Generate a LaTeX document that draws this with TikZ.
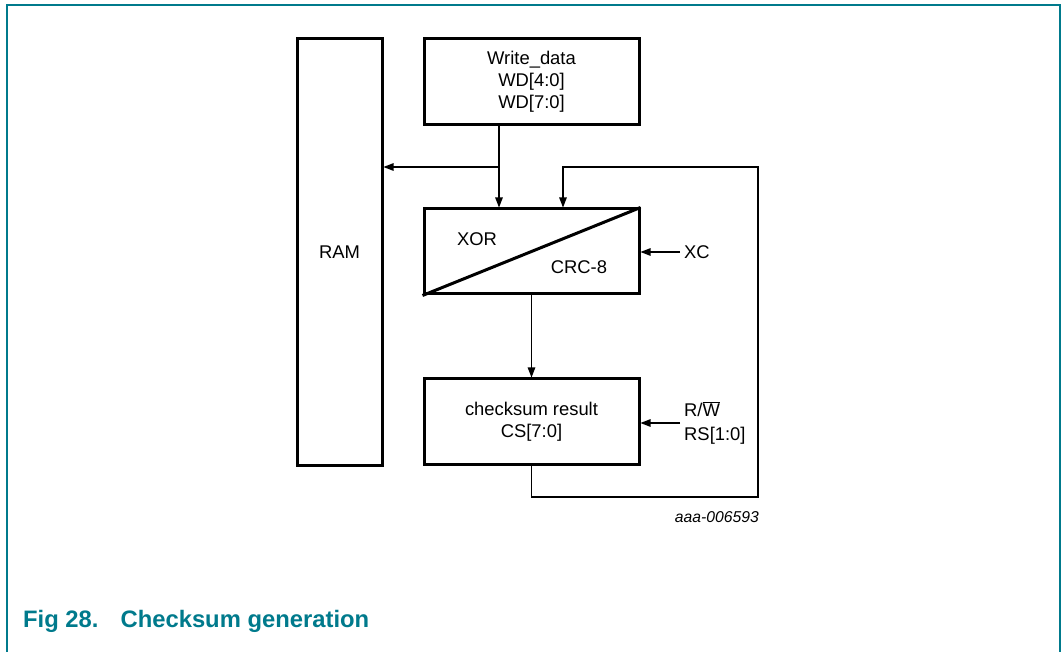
\documentclass[tikz,border=0pt]{standalone}
\usepackage{fontspec}
\setmainfont{Liberation Sans}
\usepackage{tikz}
\usetikzlibrary{positioning, arrows.meta, calc}
\definecolor{figteal}{RGB}{0,122,140}

\begin{document}
\begin{tikzpicture}[x=1pt, y=-1pt, >={Triangle[length=10pt,width=7.5pt]},
      blk/.style={draw, line width=3pt, inner sep=0pt, align=center,
        font=\fontsize{18.4}{22}\selectfont},
      wire/.style={line width=1.2pt},
      sig/.style={inner sep=4pt, align=left, font=\fontsize{18.4}{24}\selectfont}]
    \useasboundingbox (0,0) rectangle (1061,652);
    \draw[figteal, line width=2pt] (6.5,652) -- (6.5,5.5) -- (1060,5.5) -- (1060,652);
    \node[blk, minimum width=85pt, minimum height=426pt] (ram) at (339.5,252) {RAM};
    \node[blk, minimum width=215pt, minimum height=86pt] (wd) at (531.5,82) {Write\_data\\ WD[4:0]\\ WD[7:0]};
    \node[blk, minimum width=215pt, minimum height=85pt] (crc) at (531.5,251.5) {};
    \draw[line width=3pt] (crc.south west) -- (crc.north east);
    \node[font=\fontsize{18.4}{22}\selectfont] (xor) at (477,239) {XOR};
    \node[font=\fontsize{18.4}{22}\selectfont] (crc8) at (579,267) {CRC-8};
    \node[blk, minimum width=215pt, minimum height=85pt] (cs) at (531.5,421.5) {checksum result\\ CS[7:0]};
    \node[sig, anchor=west] (xc) at (680,252) {XC};
    \node[sig, anchor=west] (rw) at (680,423) {R/$\overline{\mbox{W}}$\\ RS[1:0]};
    \coordinate (tap) at (499,167);
    \coordinate (fb) at (563,167);
    \coordinate (loop) at (758,497);
    \draw[wire, ->] (wd.south -| tap) -- (crc.north -| tap);
    \draw[wire, ->] (tap) -- (ram.east |- tap);
    \draw[wire, ->] (crc.south) -- (cs.north);
    \draw[wire, ->] (xc.west) -- (crc.east |- xc.west);
    \draw[wire, ->] (rw.west) -- (cs.east |- rw.west);
    \draw[wire, ->] (cs.south) -- (cs.south |- loop) -- (loop) -- (loop |- fb) -- (fb) -- (crc.north -| fb);
    \node[anchor=east, inner sep=0pt, font=\fontsize{15.7}{18}\selectfont\itshape] (code) at (759,517) {aaa-006593};
    \node[anchor=base west, inner sep=0pt, text=figteal, font=\fontsize{23.8}{28}\selectfont\bfseries] (cap) at (23,627) {Fig 28.\hspace{22pt}Checksum generation};
\end{tikzpicture}
\end{document}
